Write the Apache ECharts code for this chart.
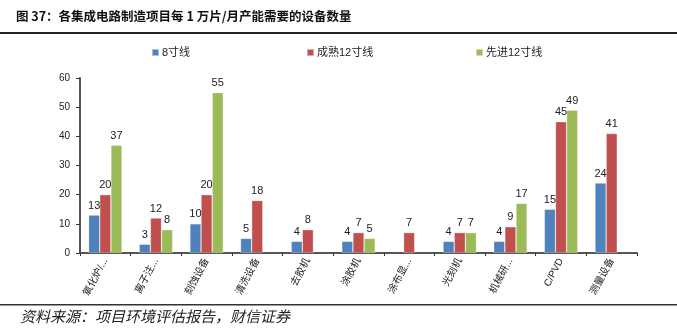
<!DOCTYPE html>
<html><head><meta charset="utf-8">
<script src="https://cdn.jsdelivr.net/npm/echarts@6/dist/echarts.min.js"></script>
<style>html,body{margin:0;padding:0;background:#fff}#c{width:677px;height:328px}</style>
</head><body><div id="c"></div>
<script>
const categories = ['氧化炉/...', '离子注...', '刻蚀设备', '清洗设备', '去胶机', '涂胶机', '涂布显...', '光刻机', '机械研...', 'C/PVD', '测量设备'];
const seriesNames = ['8寸线', '成熟12寸线', '先进12寸线'];
const line8 = [13, 3, 10, 5, 4, 4, null, 4, 4, 15, 24];
const mature12 = [20, 12, 20, 18, 8, 7, 7, 7, 9, 45, 41];
const advanced12 = [37, 8, 55, null, null, 5, null, 7, 17, 49, null];
const yTicks = [0, 10, 20, 30, 40, 50, 60];
const colors = ['#4F81BD', '#C0504D', '#9BBB59'];

const chart = echarts.init(document.getElementById('c'));
const font = '"Liberation Sans", Arial, "Noto Sans CJK SC", sans-serif';
function mk(name, data, color) {
  return {
    name, type: 'bar', data, barGap: '0%', barCategoryGap: '34%',
    itemStyle: { color, borderColor: 'rgba(255,255,255,0.5)', borderWidth: 0.6 },
    label: { show: true, position: 'top', distance: 4, fontSize: 11, color: '#222', fontFamily: font },
    animation: false
  };
}
const legendPos = [146, 301, 470];
chart.setOption({
  animation: false,
  legend: seriesNames.map((n, i) => ({
    data: [n], left: legendPos[i], top: 42, itemWidth: 7, itemHeight: 7, icon: 'rect', itemGap: 0,
    textStyle: { fontSize: 11, color: '#222', fontFamily: font, padding: [0, 0, 0, -2] }
  })),
  grid: { left: 80, right: 40, top: 78, bottom: 75, containLabel: false },
  xAxis: {
    type: 'category', data: categories,
    axisLine: { lineStyle: { color: '#555', width: 2 } },
    axisTick: { show: true, length: 3, lineStyle: { color: '#333' } },
    axisLabel: { rotate: 62, fontSize: 10, color: '#222', fontFamily: font, margin: 6, interval: 0 }
  },
  yAxis: {
    type: 'value', min: yTicks[0], max: yTicks[yTicks.length - 1], interval: 10,
    axisLine: { show: true, lineStyle: { color: '#555', width: 2 } },
    axisTick: { show: true, length: 4, lineStyle: { color: '#333' } },
    splitLine: { show: false },
    axisLabel: { fontSize: 10, color: '#222', fontFamily: font, margin: 10 }
  },
  series: [mk(seriesNames[0], line8, colors[0]), mk(seriesNames[1], mature12, colors[1]), mk(seriesNames[2], advanced12, colors[2])],
  graphic: [
    { type: 'text', left: 16, top: 10, style: { text: '图 37：各集成电路制造项目每 1 万片/月产能需要的设备数量', font: 'bold 12.5px "Noto Sans CJK SC", sans-serif', fill: '#111' } },
    { type: 'rect', left: 0, top: 32, shape: { width: 677, height: 2 }, style: { fill: '#222' } },
    { type: 'rect', left: 0, top: 304, shape: { width: 677, height: 1.5 }, style: { fill: '#333' } },
    { type: 'text', left: 20, top: 309, style: { text: '资料来源：项目环境评估报告，财信证券', font: 'italic 15px "Noto Sans CJK SC", sans-serif', fill: '#222' } }
  ]
});
</script></body></html>
